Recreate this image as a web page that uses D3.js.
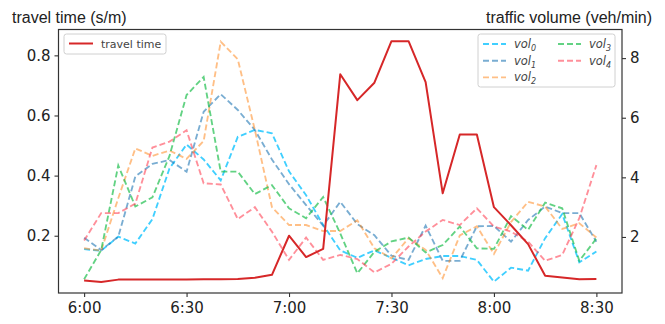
<!DOCTYPE html>
<html>
<head>
<meta charset="utf-8">
<script src="https://cdn.jsdelivr.net/npm/d3@7"></script>
<style>
  body { margin: 0; background: #fff; }
  svg { display: block; }
</style>
</head>
<body>
<div id="chart"></div>
<script>

// time of day, one sample every 5 minutes
var times = ["6:00","6:05","6:10","6:15","6:20","6:25","6:30","6:35","6:40","6:45",
  "6:50","6:55","7:00","7:05","7:10","7:15","7:20","7:25","7:30","7:35",
  "7:40","7:45","7:50","7:55","8:00","8:05","8:10","8:15","8:20","8:25","8:30"];

var tickLabels = ["6:00", "6:30", "7:00", "7:30", "8:00", "8:30"];

// travel time (s/m), left axis
var travelTime = [0.051, 0.046, 0.054, 0.054, 0.054, 0.054, 0.054, 0.055, 0.055, 0.056,
  0.060, 0.070, 0.200, 0.129, 0.156, 0.737, 0.651, 0.709, 0.847, 0.847,
  0.711, 0.341, 0.537, 0.537, 0.295, 0.235, 0.172, 0.067, 0.061, 0.055, 0.056];

// traffic volume (veh/min), right axis
var vol0 = [1.59, 1.54, 2.01, 1.78, 2.60, 4.30, 5.10, 4.60, 3.90, 5.36,
  5.59, 5.48, 4.20, 3.40, 2.40, 1.55, 1.30, 1.55, 1.30, 1.05,
  1.26, 1.36, 1.36, 1.23, 0.50, 0.97, 0.87, 1.96, 2.77, 1.15, 1.51];
var vol1 = [1.97, 1.56, 2.01, 4.03, 4.45, 4.58, 4.19, 6.20, 6.79, 6.26,
  5.59, 4.60, 3.77, 3.07, 2.38, 3.18, 2.43, 2.06, 1.37, 1.23,
  2.38, 1.20, 1.20, 2.36, 2.37, 1.84, 2.57, 3.02, 2.80, 2.80, 1.84];
var vol2 = [1.62, 1.54, 3.30, 4.97, 4.72, 4.90, 4.62, 5.22, 8.55, 7.96,
  5.59, 3.00, 2.40, 2.40, 2.20, 2.20, 2.56, 1.62, 1.28, 1.96,
  1.57, 0.62, 2.05, 2.36, 1.43, 2.50, 3.18, 3.02, 2.27, 2.46, 1.98];
var vol3 = [0.58, 1.56, 4.40, 3.02, 3.33, 4.72, 6.76, 7.37, 4.19, 4.19,
  3.44, 3.74, 2.96, 2.63, 3.34, 2.12, 0.78, 1.50, 1.85, 1.98,
  1.48, 1.73, 2.35, 1.62, 1.60, 2.70, 2.24, 3.15, 2.96, 1.20, 1.95];
var vol4 = [1.88, 2.80, 2.80, 3.12, 5.00, 5.20, 5.58, 3.80, 3.76, 2.60,
  3.00, 2.18, 1.23, 1.98, 1.23, 1.40, 1.26, 0.81, 1.10, 1.68,
  2.18, 2.57, 2.40, 2.96, 2.35, 2.18, 1.84, 1.20, 1.40, 2.63, 4.41];

var leftTicks = [0.2, 0.4, 0.6, 0.8];
var rightTicks = [2, 4, 6, 8];

var volNames = ["0", "1", "2", "3", "4"];
var volSeries = [vol0, vol1, vol2, vol3, vol4];
var volColors = ["#00bfff", "#1f77b4", "#ff7f0e", "#1fbf4f", "#ff3347"];
var volAlpha = [0.75, 0.6, 0.5, 0.7, 0.55];

var width = 665, height = 324;
var plot = {left: 58.5, right: 622, top: 29.5, bottom: 293};

function toMin(t) {
  var p = t.split(":");
  return (+p[0] - 6) * 60 + (+p[1]);
}

var svg = d3.select("#chart").append("svg")
  .attr("width", width)
  .attr("height", height)
  .style("font-family", "'DejaVu Sans', sans-serif");

var x = d3.scaleLinear().domain([-7.5, 157.5]).range([plot.left, plot.right]);
var yL = d3.scaleLinear().domain([0.0095, 0.886]).range([plot.bottom, plot.top]);
var yR = d3.scaleLinear().domain([0.12, 8.96]).range([plot.bottom, plot.top]);

// volume lines (dashed, right axis)
var volLine = d3.line()
  .x(function(d, i) { return x(toMin(times[i])); })
  .y(function(d) { return yR(d); });

volSeries.forEach(function(s, k) {
  svg.append("path")
    .attr("d", volLine(s))
    .attr("fill", "none")
    .attr("stroke", volColors[k])
    .attr("stroke-opacity", volAlpha[k])
    .attr("stroke-width", 1.85)
    .attr("stroke-dasharray", "6,3");
});

// travel time line (left axis)
var ttLine = d3.line()
  .x(function(d, i) { return x(toMin(times[i])); })
  .y(function(d) { return yL(d); });

svg.append("path")
  .attr("d", ttLine(travelTime))
  .attr("fill", "none")
  .attr("stroke", "#d62728")
  .attr("stroke-width", 2)
  .attr("stroke-linejoin", "round");

// axes
var xAxis = d3.axisBottom(x)
  .tickValues(tickLabels.map(toMin))
  .tickFormat(function(d, i) { return tickLabels[i]; })
  .tickSize(4).tickPadding(5);
var lAxis = d3.axisLeft(yL).tickValues(leftTicks).tickFormat(d3.format(".1f")).tickSize(4).tickPadding(4);
var rAxis = d3.axisRight(yR).tickValues(rightTicks).tickFormat(d3.format("d")).tickSize(4).tickPadding(4);

svg.append("g").attr("transform", "translate(0," + plot.bottom + ")").call(xAxis);
svg.append("g").attr("transform", "translate(" + plot.left + ",0)").call(lAxis);
svg.append("g").attr("transform", "translate(" + plot.right + ",0)").call(rAxis);

svg.selectAll(".domain").remove();
svg.selectAll(".tick line").attr("stroke", "#333").attr("stroke-width", 1.1);
svg.selectAll(".tick text").attr("fill", "#222").style("font-size", "15px")
  .style("font-family", "'DejaVu Sans', sans-serif");

// frame
svg.append("rect")
  .attr("x", plot.left).attr("y", plot.top)
  .attr("width", plot.right - plot.left).attr("height", plot.bottom - plot.top)
  .attr("fill", "none").attr("stroke", "#333").attr("stroke-width", 1.2);

// axis titles
svg.append("text").attr("x", 12).attr("y", 23)
  .style("font-family", "'Liberation Sans', Arial, sans-serif").style("font-size", "16px")
  .attr("fill", "#222").text("travel time (s/m)");
svg.append("text").attr("x", 652).attr("y", 23).attr("text-anchor", "end")
  .style("font-family", "'Liberation Sans', Arial, sans-serif").style("font-size", "16px")
  .attr("fill", "#222").text("traffic volume (veh/min)");

// legend: travel time
var lg1 = svg.append("g").attr("transform", "translate(64,34)");
lg1.append("rect").attr("width", 102).attr("height", 20).attr("rx", 2.5)
  .attr("fill", "#fff").attr("fill-opacity", 0.8).attr("stroke", "#d0d0d0");
lg1.append("line").attr("x1", 5).attr("x2", 29).attr("y1", 9.5).attr("y2", 9.5)
  .attr("stroke", "#d62728").attr("stroke-width", 2);
lg1.append("text").attr("x", 37).attr("y", 13.5).style("font-size", "11px")
  .attr("fill", "#444").text("travel time");

// legend: volumes
var lg2 = svg.append("g").attr("transform", "translate(478,34)");
lg2.append("rect").attr("width", 137).attr("height", 53).attr("rx", 2.5)
  .attr("fill", "#fff").attr("fill-opacity", 0.8).attr("stroke", "#d0d0d0");

volNames.forEach(function(n, k) {
  var col = k < 3 ? 0 : 1;
  var row = k < 3 ? k : k - 3;
  var g = lg2.append("g").attr("transform", "translate(" + (5 + col * 75) + "," + (10 + row * 16.7) + ")");
  g.append("line").attr("x1", 0).attr("x2", 23).attr("y1", 0).attr("y2", 0)
    .attr("stroke", volColors[k]).attr("stroke-opacity", volAlpha[k])
    .attr("stroke-width", 1.85).attr("stroke-dasharray", "6,3");
  var t = g.append("text").attr("x", 31).attr("y", 4)
    .style("font-size", "11.5px").style("font-style", "italic").attr("fill", "#444");
  t.append("tspan").text("vol");
  t.append("tspan").attr("dy", 3).style("font-size", "8px").text(n);
});

</script>
</body>
</html>
